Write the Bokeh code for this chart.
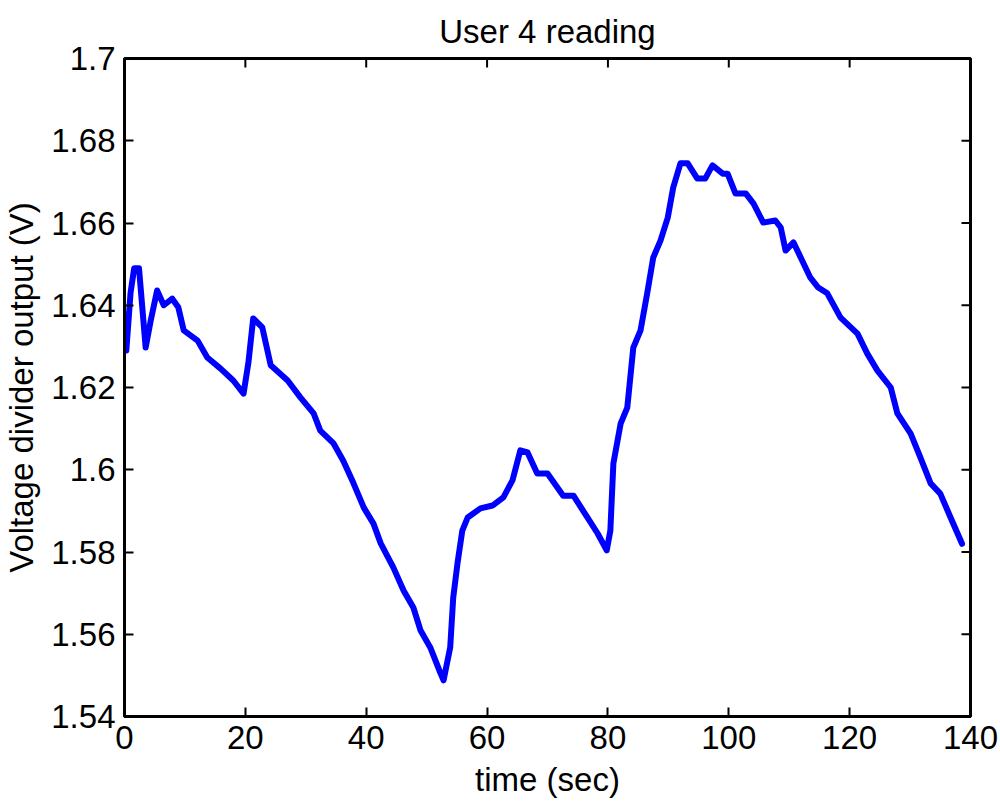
import math
from bokeh.plotting import figure
from bokeh.models import FixedTicker, Range1d
from bokeh.embed import file_html
from bokeh.resources import INLINE

# ---- data ----
time_sec = [0.3, 1.0, 1.6, 2.4, 3.5, 4.3, 5.4, 6.5, 7.9, 8.9, 9.8, 12.1, 13.7,
            15.9, 18.0, 19.7, 20.5, 21.3, 22.8, 24.2, 27.0, 29.1, 31.3, 32.4,
            34.6, 36.2, 37.9, 39.6, 41.2, 42.4, 44.5, 46.2, 47.8, 49.0, 50.6,
            52.3, 52.8, 53.9, 54.4, 55.1, 55.9, 56.8, 58.9, 60.9, 62.7, 64.2,
            65.5, 66.7, 68.3, 70.0, 72.6, 74.3, 76.6, 78.3, 79.8, 80.4, 80.9,
            82.1, 83.2, 84.2, 85.4, 86.5, 87.5, 88.7, 89.9, 90.8, 92.0, 93.2,
            94.8, 96.1, 97.3, 99.0, 99.8, 101.1, 102.8, 104.1, 105.7, 107.7,
            108.6, 109.4, 110.7, 111.9, 113.5, 114.8, 116.3, 118.5, 121.3,
            122.9, 124.6, 126.8, 127.9, 130.1, 131.7, 133.4, 135.0, 136.7,
            138.6]
voltage = [1.629, 1.643, 1.649, 1.649, 1.6297, 1.636, 1.6436, 1.640, 1.6416,
           1.6395, 1.6339, 1.6314, 1.6273, 1.6246, 1.6217, 1.6185, 1.626,
           1.6368, 1.6346, 1.6254, 1.6217, 1.6176, 1.6137, 1.6095, 1.6064,
           1.6022, 1.5967, 1.5908, 1.5869, 1.5821, 1.5762, 1.5706, 1.5665,
           1.5609, 1.5568, 1.5505, 1.5488, 1.5568, 1.5689, 1.5772, 1.5852,
           1.5884, 1.5906, 1.5913, 1.5933, 1.5974, 1.6047, 1.6042, 1.5991,
           1.5991, 1.5937, 1.5937, 1.5884, 1.5845, 1.5804, 1.5852, 1.6015,
           1.6112, 1.6151, 1.6297, 1.6339, 1.6429, 1.6516, 1.6557, 1.6613,
           1.6686, 1.6745, 1.6745, 1.6708, 1.6708, 1.6740, 1.6720, 1.6720,
           1.6672, 1.6672, 1.6647, 1.6601, 1.6606, 1.6589, 1.6533, 1.6553,
           1.6516, 1.6467, 1.6443, 1.6429, 1.6370, 1.6331, 1.6283, 1.6241,
           1.6200, 1.6137, 1.6088, 1.6030, 1.5967, 1.5942, 1.5884, 1.5820]

x_ticks = [0, 20, 40, 60, 80, 100, 120, 140]
y_ticks = [1.54, 1.56, 1.58, 1.6, 1.62, 1.64, 1.66, 1.68, 1.7]
y_tick_labels = ["1.54", "1.56", "1.58", "1.6", "1.62", "1.64", "1.66", "1.68", "1.7"]

FONT = "Liberation Sans"
TEXT_SIZE = "33px"
X_MIN, X_MAX = 0, 140
Y_MIN, Y_MAX = 1.54, 1.7

p = figure(width=1000, height=810, output_backend="svg", toolbar_location=None,
           x_range=Range1d(X_MIN, X_MAX), y_range=Range1d(Y_MIN, Y_MAX),
           title="User 4 reading",
           min_border_left=124, min_border_right=30,
           min_border_top=58, min_border_bottom=94)

p.line(time_sec, voltage, line_color="#0000FF", line_width=6,
       line_join="round", line_cap="round")

# mirrored inward ticks on the top and right edges of the box
p.ray(x=x_ticks, y=[Y_MAX] * len(x_ticks), length=9, length_units="screen",
      angle=-math.pi / 2, line_color="black", line_width=2)
p.ray(x=[X_MAX] * len(y_ticks), y=y_ticks, length=9, length_units="screen",
      angle=math.pi, line_color="black", line_width=2)

p.grid.visible = False
p.background_fill_color = "white"
p.border_fill_color = "white"
p.outline_line_color = "black"
p.outline_line_width = 3

p.title.align = "center"
p.title.vertical_align = "top"
p.title.text_font = FONT
p.title.text_font_size = "33px"
p.title.text_font_style = "normal"
p.title.text_color = "black"
p.title.standoff = 14

p.xaxis.axis_label = "time (sec)"
p.yaxis.axis_label = "Voltage divider output (V)"

for ax, ticks in ((p.xaxis[0], x_ticks), (p.yaxis[0], y_ticks)):
    ax.ticker = FixedTicker(ticks=ticks)
    ax.major_tick_in = 9
    ax.major_tick_out = 0
    ax.minor_tick_line_color = None
    ax.major_tick_line_width = 2
    ax.axis_line_width = 3
    ax.axis_line_color = "black"
    ax.major_label_text_font = FONT
    ax.major_label_text_font_size = TEXT_SIZE
    ax.major_label_text_color = "black"
    ax.axis_label_text_font = FONT
    ax.axis_label_text_font_size = TEXT_SIZE
    ax.axis_label_text_font_style = "normal"
    ax.axis_label_text_color = "black"

p.xaxis.major_label_standoff = 9
p.xaxis.axis_label_standoff = 9
p.yaxis.major_label_standoff = 9
p.yaxis.axis_label_standoff = 8
p.yaxis.major_label_overrides = dict(zip(y_ticks, y_tick_labels))

open("out.html", "w").write(file_html(p, INLINE))
